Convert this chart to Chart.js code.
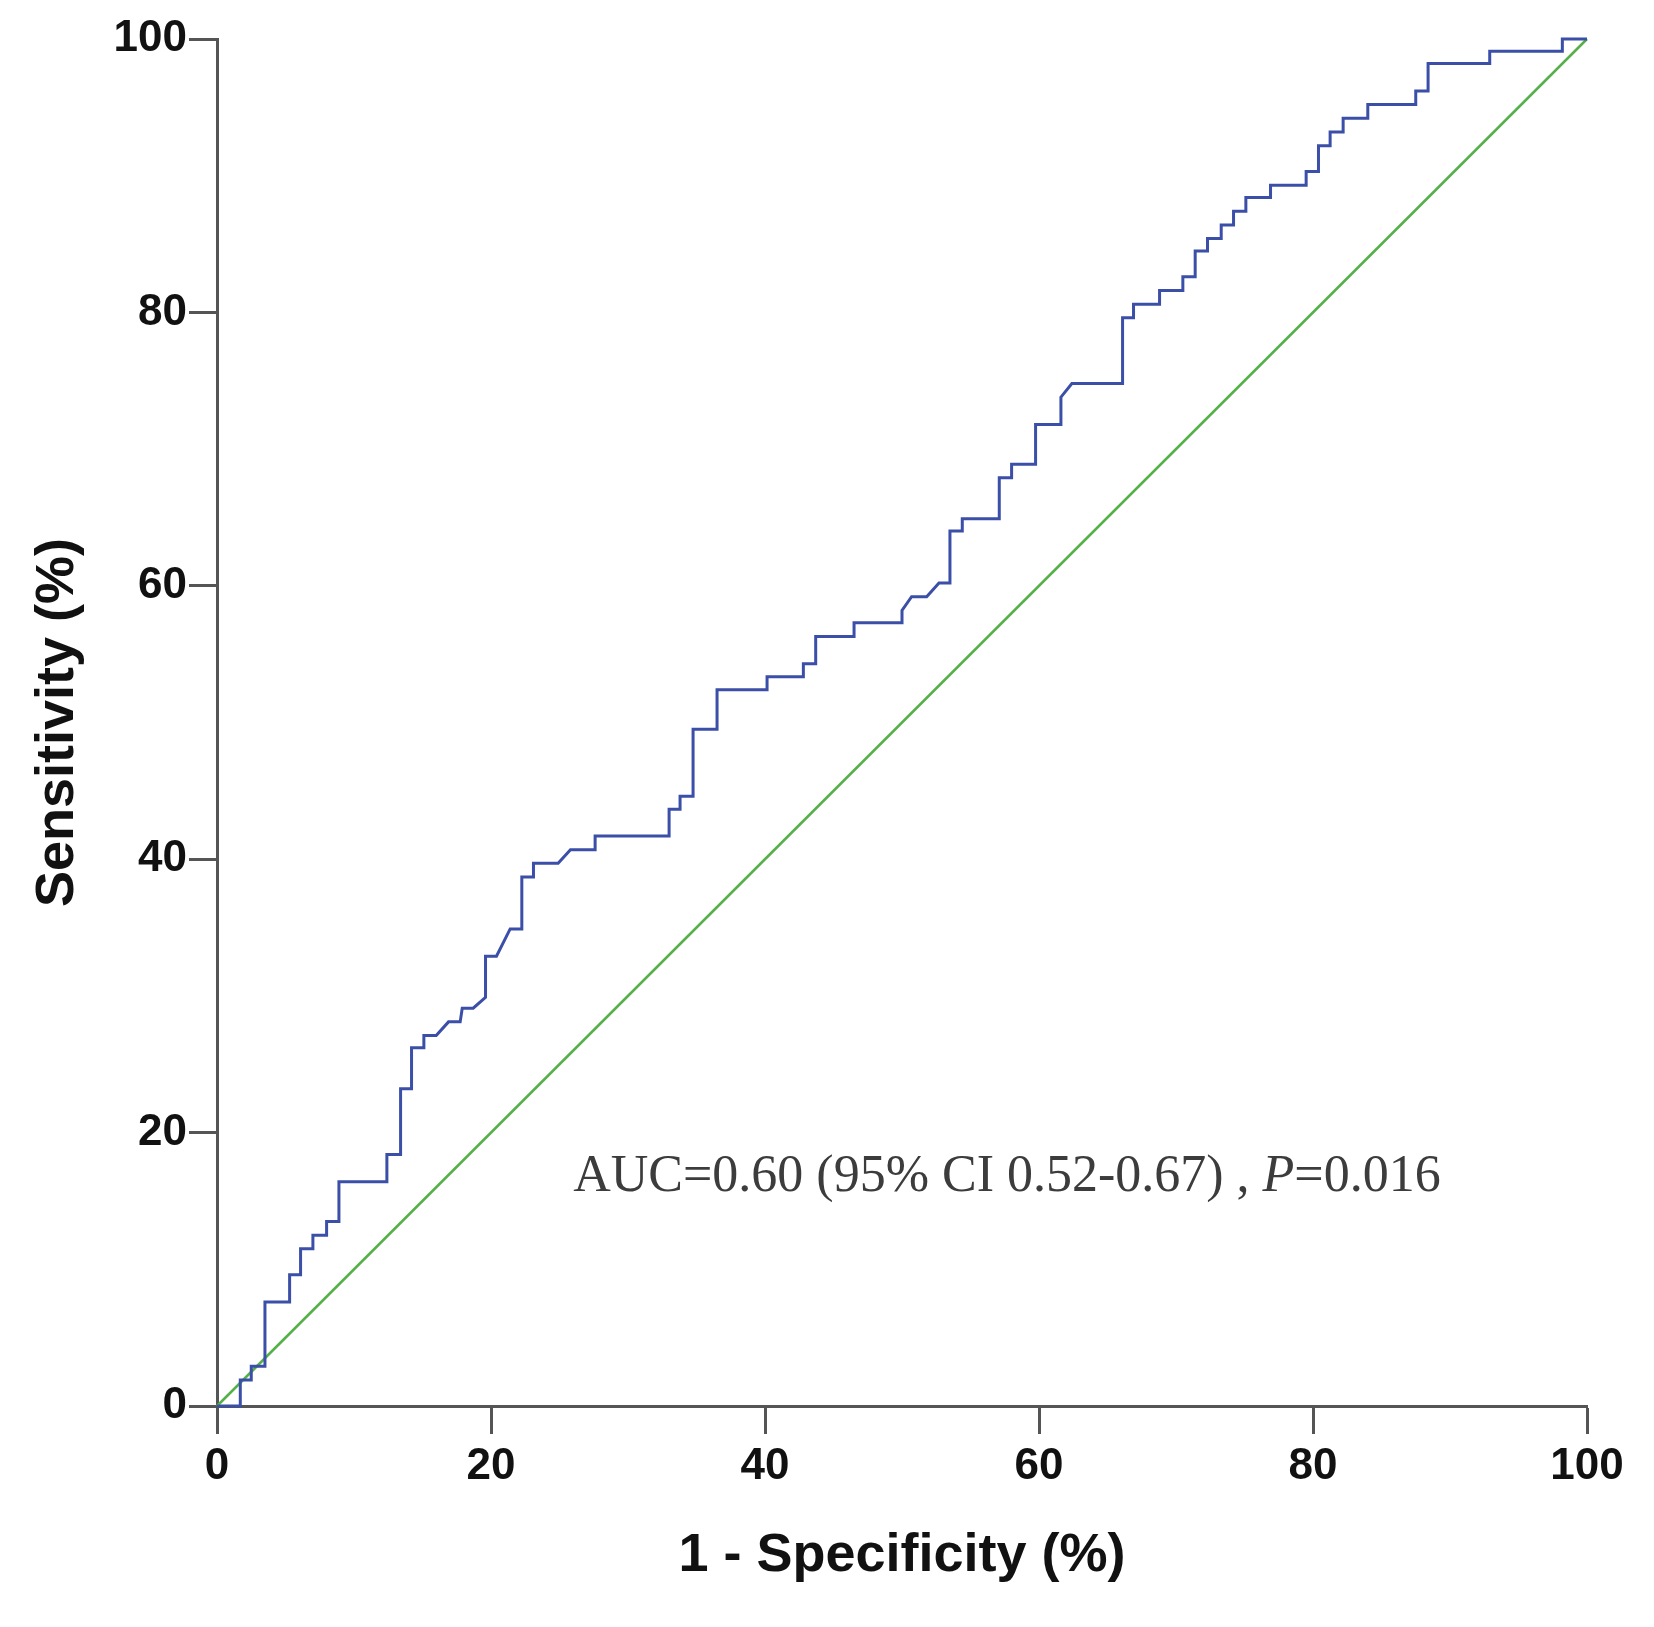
<!DOCTYPE html>
<html lang="en">
<head>
<meta charset="UTF-8" />
<title>ROC curve</title>
<script src="https://cdn.jsdelivr.net/npm/chart.js@4"></script>
<style>
  html, body { margin: 0; padding: 0; background: #fff; }
  #roc { display: block; }
</style>
</head>
<body>
<canvas id="roc" width="1654" height="1627"></canvas>
<script>
// ROC curve vertices (1 - specificity, sensitivity), in %
const fpr = [
  0, 1.7, 1.7, 2.5, 2.5, 3.5, 3.5, 5.3, 5.3, 6.1, 6.1, 7.0, 7.0, 8.0, 8.0, 8.9, 8.9,
  12.4, 12.4, 13.4, 13.4, 14.2, 14.2, 15.1, 15.1, 16.0, 16.9, 17.75, 17.9, 18.7, 19.6, 19.6,
  20.4, 21.4, 22.25, 22.25, 23.1, 23.1, 24.9, 25.8, 27.6, 27.6,
  33.0, 33.0, 33.8, 33.8, 34.75, 34.75, 36.5, 36.5,
  40.15, 40.15, 42.8, 42.8, 43.7, 43.7, 46.5, 46.5,
  50.0, 50.0, 50.7, 51.8, 52.7, 53.5, 53.5, 54.4, 54.4, 57.1, 57.1, 58.0, 58.0,
  59.75, 59.75, 61.6, 61.6, 62.4, 66.1, 66.1, 66.9, 66.9, 68.8, 68.8,
  70.5, 70.5, 71.4, 71.4, 72.3, 72.3, 73.3, 73.3, 74.2, 74.2, 75.1, 75.1, 76.9, 76.9,
  79.5, 79.5, 80.4, 80.4, 81.25, 81.25, 82.2, 82.2, 84.0, 84.0, 87.5, 87.5, 88.4, 88.4,
  92.9, 92.9, 98.2, 98.2, 100
];
const sensitivity = [
  0, 0, 1.9, 1.9, 2.9, 2.9, 7.6, 7.6, 9.6, 9.6, 11.5, 11.5, 12.5, 12.5, 13.5, 13.5, 16.4,
  16.4, 18.4, 18.4, 23.2, 23.2, 26.2, 26.2, 27.1, 27.1, 28.1, 28.1, 29.1, 29.1, 29.9, 32.9,
  32.9, 34.9, 34.9, 38.7, 38.7, 39.7, 39.7, 40.7, 40.7, 41.7,
  41.7, 43.65, 43.65, 44.6, 44.6, 49.5, 49.5, 52.4,
  52.4, 53.35, 53.35, 54.3, 54.3, 56.3, 56.3, 57.3,
  57.3, 58.2, 59.2, 59.2, 60.2, 60.2, 64.0, 64.0, 64.9, 64.9, 67.9, 67.9, 68.9,
  68.9, 71.8, 71.8, 73.8, 74.8, 74.8, 79.6, 79.6, 80.6, 80.6, 81.6,
  81.6, 82.6, 82.6, 84.5, 84.5, 85.4, 85.4, 86.4, 86.4, 87.4, 87.4, 88.4, 88.4, 89.3,
  89.3, 90.3, 90.3, 92.2, 92.2, 93.2, 93.2, 94.2, 94.2, 95.2, 95.2, 96.2, 96.2, 98.2,
  98.2, 99.1, 99.1, 100, 100
];
// reference (chance) line
const chanceX = [0, 100];
const chanceY = [0, 100];
const axisTicks = [0, 20, 40, 60, 80, 100];
const noteParts = ["AUC=0.60 (95% CI 0.52-0.67) , ", "P", "=0.016"];
const notePos = [26.0, 15.7]; // x, y in axis units (left edge, baseline)

const sans = '"Liberation Sans", Arial, sans-serif';
const serif = '"Liberation Serif", "Times New Roman", serif';
const axisColor = "#555555";

// draws the AUC note with italic P
const notePlugin = {
  id: "aucNote",
  afterDatasetsDraw(chart) {
    const ctx = chart.ctx;
    let x = chart.scales.x.getPixelForValue(notePos[0]);
    const y = chart.scales.y.getPixelForValue(notePos[1]);
    ctx.save();
    ctx.fillStyle = "#3c3c3c";
    ctx.textBaseline = "alphabetic";
    ctx.textAlign = "left";
    noteParts.forEach((part, i) => {
      ctx.font = (i === 1 ? "italic " : "") + "52px " + serif;
      ctx.fillText(part, x, y);
      x += ctx.measureText(part).width;
    });
    ctx.restore();
  },
};

const scaleBase = (titleText) => ({
  type: "linear",
  min: 0,
  max: 100,
  afterBuildTicks: (s) => { s.ticks = axisTicks.map((v) => ({ value: v })); },
  border: { display: true, color: axisColor, width: 3 },
  grid: {
    drawOnChartArea: false,
    drawTicks: true,
    tickColor: axisColor,
    tickWidth: 3,
    tickLength: 28,
  },
  ticks: {
    color: "#111",
    font: { family: sans, size: 44, weight: "bold" },
  },
  title: {
    display: true,
    text: titleText,
    color: "#111",
    font: { family: sans, size: 54, weight: "bold", lineHeight: 1.2 },
  },
});

const xScale = scaleBase("1 - Specificity (%)");
xScale.ticks.padding = 6;
xScale.ticks.maxRotation = 0;
xScale.title.padding = { top: 0, bottom: 38 };
xScale.afterFit = (s) => { s.height = 1627 - 1406; };

const yScale = scaleBase("Sensitivity (%)");
yScale.ticks.padding = 2;
yScale.title.padding = { top: 26, bottom: 0 };
yScale.afterFit = (s) => { s.width = 217; };

new Chart(document.getElementById("roc").getContext("2d"), {
  type: "line",
  data: {
    datasets: [
      {
        label: "ROC",
        data: fpr.map((v, i) => ({ x: v, y: sensitivity[i] })),
        borderColor: "#3b4fa8",
        borderWidth: 3,
        pointRadius: 0,
        tension: 0,
        clip: false,
      },
      {
        label: "Reference",
        data: chanceX.map((v, i) => ({ x: v, y: chanceY[i] })),
        borderColor: "#55b04a",
        borderWidth: 2.5,
        pointRadius: 0,
        tension: 0,
        clip: false,
      },
    ],
  },
  options: {
    responsive: false,
    devicePixelRatio: 1,
    animation: false,
    layout: { padding: { top: 39, right: 67, bottom: 0, left: 0 } },
    scales: { x: xScale, y: yScale },
    plugins: {
      legend: { display: false },
      tooltip: { enabled: false },
    },
  },
  plugins: [notePlugin],
});
</script>
</body>
</html>
